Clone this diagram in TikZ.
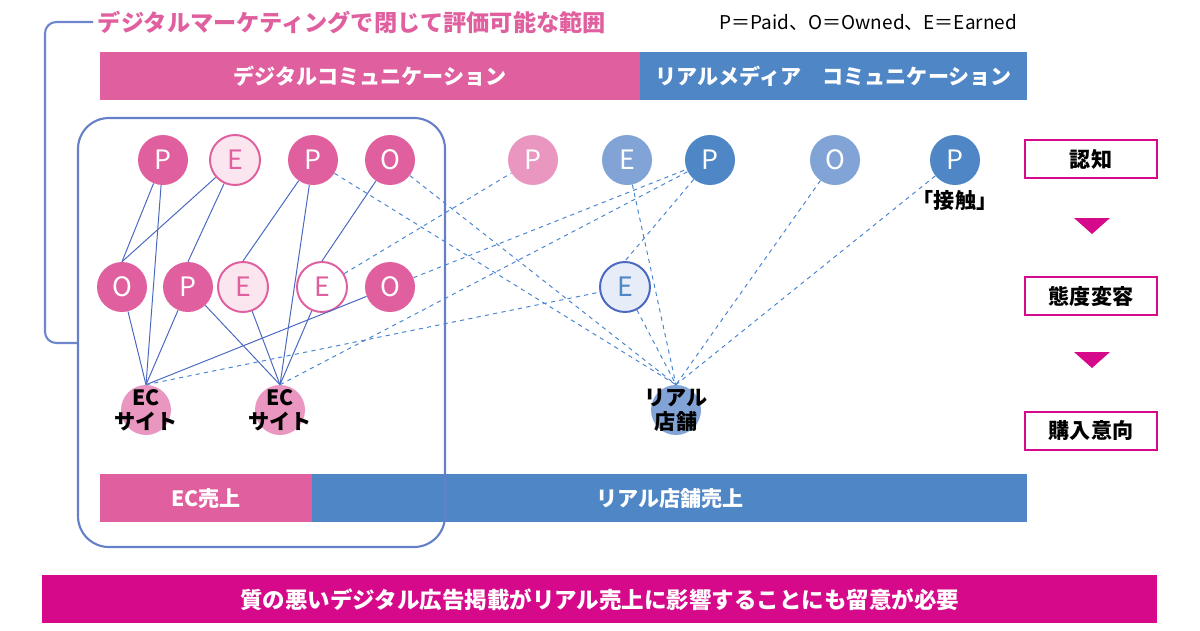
\documentclass[tikz,border=0pt]{standalone}
\usepackage{fontspec}
\setmainfont{Noto Sans CJK JP}
\setsansfont{Noto Sans CJK JP}
\usetikzlibrary{positioning}
\definecolor{mpink}{HTML}{E0609F}
\definecolor{lpink}{HTML}{E996C0}
\definecolor{ppink}{HTML}{FBE6F0}
\definecolor{mblue}{HTML}{4F86C6}
\definecolor{lblue}{HTML}{82A3D6}
\definecolor{pblue}{HTML}{E6ECF8}
\definecolor{lineblue}{HTML}{4A68C0}
\definecolor{dashblue}{HTML}{4A86D0}
\definecolor{magenta}{HTML}{D6098A}
\begin{document}
\begin{tikzpicture}[
    x=0.25mm, y=-0.25mm,
    dot/.style={circle, minimum size=12.5mm, inner sep=0pt, text=white, font=\fontsize{19}{19}\selectfont},
    pdot/.style={dot, fill=mpink},
    edot/.style={dot, draw=mpink, line width=1.4pt, fill=ppink, text=mpink},
    site/.style={circle, minimum size=12.5mm, inner sep=0pt},
    sitetext/.style={align=center, font=\bfseries\fontsize{15}{17}\selectfont},
    bar/.style={minimum height=12mm, inner sep=0pt, text=white, font=\bfseries\fontsize{15}{17}\selectfont},
    stage/.style={draw=magenta, line width=1.2pt, minimum width=33mm, minimum height=9.5mm, font=\bfseries\fontsize{15}{17}\selectfont},
    solid line/.style={lineblue, line width=0.7pt},
    dash line/.style={dashblue, dashed, line width=0.7pt}
]
\useasboundingbox (0,0) rectangle (1200,630);

% header
\node[anchor=west, text=mpink, font=\bfseries\fontsize{16.5}{18}\selectfont] (title) at (93,22) {デジタルマーケティングで閉じて評価可能な範囲};
\node[anchor=east, font=\fontsize{13.5}{15}\selectfont] (legend) at (1022,22) {P＝Paid、O＝Owned、E＝Earned};
\draw[lineblue!80, line width=1.5pt, rounded corners=8pt] (title.west) -- (45,22) -- (45,343) -- (78,343);

% bars
\node[bar, fill=mpink, minimum width=135mm, anchor=north west] (digital) at (100,52) {デジタルコミュニケーション};
\node[bar, fill=mblue, minimum width=96.75mm, anchor=north west] (realmedia) at (640,52) {リアルメディア\quad コミュニケーション};
\node[bar, fill=mpink, minimum width=53mm, anchor=north west] (ecsales) at (100,474) {EC売上};
\node[bar, fill=mblue, minimum width=178.75mm, anchor=north west] (realsales) at (312,474) {リアル店舗売上};

% scope box
\draw[lineblue!85, line width=1.5pt, rounded corners=22pt] (78,118) rectangle (445,547);

% top row
\node[pdot] (p1) at (163,160) {P};
\node[edot] (e1) at (235,160) {E};
\node[pdot] (p2) at (313,160) {P};
\node[pdot] (o1) at (390,160) {O};
\node[dot, fill=lpink] (p3) at (533,160) {P};
\node[dot, fill=lblue] (e2) at (627,160) {E};
\node[dot, fill=mblue] (p4) at (710,160) {P};
\node[dot, fill=lblue] (o2) at (835,160) {O};
\node[dot, fill=mblue] (p5) at (955,160) {P};
\node[font=\bfseries\fontsize{15}{17}\selectfont, below=0pt of p5] (contact) {「接触」};

% middle row
\node[pdot] (o3) at (122,287) {O};
\node[pdot] (p6) at (188,287) {P};
\node[edot] (e3) at (243,287) {E};
\node[edot, fill=white] (e4) at (322,287) {E};
\node[pdot] (o4) at (390,287) {O};
\node[dot, draw=lineblue, line width=1.4pt, fill=pblue, text=mblue] (e5) at (625,287) {E};

% sales points
\node[site, fill=lpink] (ec1) at (146,410) {};
\node[site, fill=lpink] (ec2) at (280,410) {};
\node[site, fill=lblue] (store) at (676,410) {};

% links
\foreach \a/\b in {p1/o3, p1/ec1, e1/o3, e1/p6, p2/e3, p2/ec2, o1/e4,
    o3/ec1, p6/ec1, p6/ec2, e3/ec2, e4/ec2, o4/ec1}
  \draw[solid line] (\a) -- (\b.north);
\foreach \a/\b in {p2/store, o1/store, e2/store, p4/e5, e5/store, o2/store, p5/store}
  \draw[dash line] (\a) -- (\b.north);
\draw[dash line] (e4) -- (p3);
\draw[dash line] (o4) -- (p4);
\draw[dash line] (ec2.north) -- (p4);
\draw[dash line] (ec1.north) -- (e5);

\node[sitetext] (ec1t) at (ec1) {EC\\サイト};
\node[sitetext] (ec2t) at (ec2) {EC\\サイト};
\node[sitetext] (storet) at (store) {リアル\\店舗};

% stages
\node[stage] (aware) at (1091,159) {認知};
\node[stage] (attitude) at (1091,296) {態度変容};
\node[stage] (intent) at (1091,431) {購入意向};
\fill[magenta] (1074,218) -- (1110,218) -- (1092,234) -- cycle;
\fill[magenta] (1074,352) -- (1110,352) -- (1092,368) -- cycle;

% footer
\node[fill=magenta, minimum width=278.75mm, minimum height=12mm, anchor=north west, text=white, font=\bfseries\fontsize{16}{18}\selectfont] (note) at (42,575) {質の悪いデジタル広告掲載がリアル売上に影響することにも留意が必要};
\end{tikzpicture}
\end{document}
